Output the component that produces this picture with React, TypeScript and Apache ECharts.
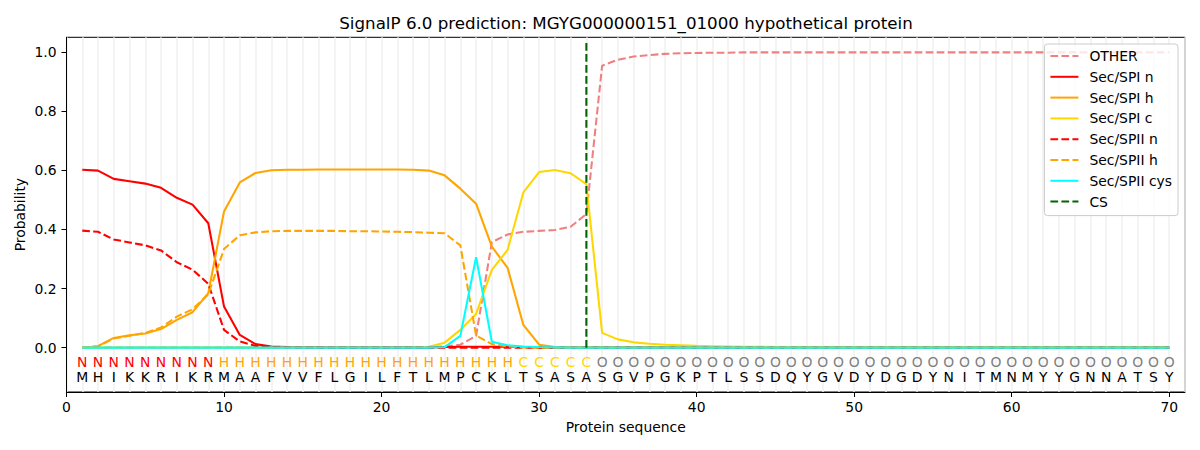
import React, { useEffect, useRef } from "react";
import * as echarts from "echarts";

const TITLE = "SignalP 6.0 prediction: MGYG000000151_01000 hypothetical protein";
const sequence = "MHIKKRIKRMAAFVVFLGILFTLMPCKLTSASASGVPGKPTLSSDQYGVDYDGDYNITMNMYYGNNATSY";
const regionLabels = "NNNNNNNNNHHHHHHHHHHHHHHHHHHHCCCCCOOOOOOOOOOOOOOOOOOOOOOOOOOOOOOOOOOOOO";
const positions = sequence.split("").map((_, i) => i + 1);
const csPosition = 33;
const csExtent = [0, 1.04];

const xTicks = [0, 10, 20, 30, 40, 50, 60, 70];
const yTicks = [0, 0.2, 0.4, 0.6, 0.8, 1.0];

const other = [
  0, 0, 0, 0, 0, 0, 0, 0, 0, 0,
  0, 0, 0, 0, 0, 0, 0, 0, 0, 0.001,
  0.001, 0.001, 0.002, 0.004, 0.01, 0.04, 0.357, 0.383, 0.392, 0.395,
  0.398, 0.409, 0.452, 0.954, 0.974, 0.985, 0.99, 0.994, 0.996, 0.997,
  0.998, 0.998, 0.999, 0.999, 0.999, 0.999, 0.999, 0.999, 0.999, 0.999,
  0.999, 0.999, 0.999, 0.999, 0.999, 0.999, 0.999, 0.999, 0.999, 0.999,
  0.999, 0.999, 0.999, 0.999, 0.999, 0.999, 0.999, 0.999, 0.999, 0.999,
];
const spiN = [
  0.602, 0.599, 0.571, 0.563, 0.555, 0.541, 0.507, 0.484, 0.421, 0.139,
  0.043, 0.012, 0.004, 0.002, 0.001, 0.001, 0, 0, 0, 0,
  0, 0, 0.001, 0.002, 0.003, 0.003, 0.003, 0.003, 0.002, 0.001,
  0, 0, 0, 0, 0, 0, 0, 0, 0, 0,
  0, 0, 0, 0, 0, 0, 0, 0, 0, 0,
  0, 0, 0, 0, 0, 0, 0, 0, 0, 0,
  0, 0, 0, 0, 0, 0, 0, 0, 0, 0,
];
const spiH = [
  0, 0.005, 0.033, 0.042, 0.048, 0.063, 0.094, 0.12, 0.184, 0.461,
  0.559, 0.591, 0.6, 0.602, 0.602, 0.603, 0.603, 0.603, 0.603, 0.603,
  0.603, 0.602, 0.599, 0.583, 0.538, 0.487, 0.342, 0.27, 0.077, 0.01,
  0.002, 0.001, 0, 0, 0, 0, 0, 0, 0, 0,
  0, 0, 0, 0, 0, 0, 0, 0, 0, 0,
  0, 0, 0, 0, 0, 0, 0, 0, 0, 0,
  0, 0, 0, 0, 0, 0, 0, 0, 0, 0,
];
const spiC = [
  0, 0, 0, 0, 0, 0, 0, 0, 0, 0,
  0, 0, 0, 0, 0, 0, 0, 0, 0, 0,
  0, 0, 0.003, 0.017, 0.06, 0.114, 0.263, 0.331, 0.525, 0.594,
  0.601, 0.59, 0.553, 0.05, 0.028, 0.018, 0.013, 0.01, 0.008, 0.006,
  0.005, 0.004, 0.003, 0.003, 0.002, 0.002, 0.001, 0.001, 0.001, 0.001,
  0.001, 0.001, 0.001, 0.001, 0.001, 0.001, 0.001, 0.001, 0.001, 0.001,
  0.001, 0.001, 0.001, 0.001, 0.001, 0.001, 0.001, 0.001, 0.001, 0.001,
];
const spiiN = [
  0.396, 0.392, 0.366, 0.356, 0.346, 0.329, 0.289, 0.264, 0.216, 0.06,
  0.021, 0.006, 0.002, 0.001, 0, 0, 0, 0, 0, 0,
  0, 0, 0, 0, 0, 0, 0, 0, 0, 0,
  0, 0, 0, 0, 0, 0, 0, 0, 0, 0,
  0, 0, 0, 0, 0, 0, 0, 0, 0, 0,
  0, 0, 0, 0, 0, 0, 0, 0, 0, 0,
  0, 0, 0, 0, 0, 0, 0, 0, 0, 0,
];
const spiiH = [
  0, 0.005, 0.031, 0.04, 0.05, 0.068, 0.105, 0.13, 0.18, 0.334,
  0.38, 0.39, 0.394, 0.395, 0.395, 0.395, 0.395, 0.394, 0.394, 0.393,
  0.392, 0.391, 0.389, 0.387, 0.346, 0.041, 0.012, 0.004, 0.001, 0,
  0, 0, 0, 0, 0, 0, 0, 0, 0, 0,
  0, 0, 0, 0, 0, 0, 0, 0, 0, 0,
  0, 0, 0, 0, 0, 0, 0, 0, 0, 0,
  0, 0, 0, 0, 0, 0, 0, 0, 0, 0,
];
const spiiCys = [
  0, 0, 0, 0, 0, 0, 0, 0, 0, 0,
  0, 0, 0, 0, 0, 0, 0, 0, 0, 0,
  0, 0, 0, 0.002, 0.04, 0.306, 0.02, 0.008, 0.004, 0.002,
  0.001, 0, 0, 0, 0, 0, 0, 0, 0, 0,
  0, 0, 0, 0, 0, 0, 0, 0, 0, 0,
  0, 0, 0, 0, 0, 0, 0, 0, 0, 0,
  0, 0, 0, 0, 0, 0, 0, 0, 0, 0,
];

const FONT = "DejaVu Sans";
const DASH = [7.7, 3.3];
const LW = 2.08;
const regionColor: Record<string, string> = { N: "#ff0000", H: "#ffa500", C: "#ffd700", O: "#808080" };

function lineSeries(name: string, values: number[], color: string, dashed: boolean) {
  return {
    name,
    type: "line",
    data: positions.map((p, i) => [p, values[i]]),
    symbol: "none",
    showSymbol: false,
    color,
    itemStyle: { color, opacity: 0 },
    lineStyle: { color, width: LW, type: dashed ? DASH : "solid", opacity: 1 },
    emphasis: { disabled: true },
    silent: true,
    z: 3,
  };
}

function letterSeries(letters: string, yLevel: number, colorOf: (ch: string) => string) {
  return {
    type: "custom",
    silent: true,
    clip: false,
    data: positions.map((p) => [p, yLevel]),
    renderItem: (params: any, api: any) => {
      const pt = api.coord([api.value(0), api.value(1)]);
      const ch = letters[params.dataIndex];
      return {
        type: "text",
        x: pt[0],
        y: pt[1],
        style: {
          text: ch,
          fill: colorOf(ch),
          fontSize: 13.9,
          fontFamily: FONT,
          align: "center",
          verticalAlign: "middle",
        },
      };
    },
    z: 4,
  };
}

export default function App() {
  const ref = useRef<HTMLDivElement>(null);
  useEffect(() => {
    if (!ref.current) return;
    const chart = echarts.init(ref.current, null, { renderer: "svg" });
    const axisCommon = {
      axisLine: { show: true, onZero: false, lineStyle: { color: "#000", width: 1 } },
      axisTick: { show: true, length: 5, lineStyle: { color: "#000", width: 1 } },
      splitLine: { show: false },
    };
    chart.setOption({
      animation: false,
      backgroundColor: "#fff",
      textStyle: { fontFamily: FONT },
      grid: {
        left: 66.5,
        right: 15,
        top: 37.3,
        bottom: 58,
        show: true,
        borderColor: "#000",
        borderWidth: 1,
        backgroundColor: "transparent",
        outerBoundsMode: "none",
        containLabel: false,
      },
      graphic: [
        {
          type: "text",
          x: 626,
          y: 23,
          silent: true,
          style: {
            text: TITLE,
            fill: "#000",
            fontSize: 16.7,
            fontFamily: FONT,
            align: "center",
            verticalAlign: "middle",
          },
        },
      ],
      xAxis: [
        {
          type: "value",
          min: 0,
          max: 71,
          name: "Protein sequence",
          nameLocation: "middle",
          nameGap: 28,
          nameMoveOverlap: false,
          nameTextStyle: { color: "#000", fontSize: 13.9, fontFamily: FONT },
          ...axisCommon,
          axisTick: { ...axisCommon.axisTick, customValues: xTicks },
          axisLabel: {
            customValues: xTicks,
            color: "#000",
            fontSize: 13.9,
            fontFamily: FONT,
            margin: 8,
          },
          z: 5,
        },
        {
          type: "value",
          min: 0,
          max: 71,
          interval: 1,
          position: "bottom",
          axisLine: { show: false, onZero: false },
          axisTick: { show: false },
          axisLabel: { show: false },
          splitLine: { show: true, lineStyle: { color: "#f0f0f0", width: 1.5 } },
          z: 0,
        },
      ],
      yAxis: {
        type: "value",
        min: -0.15,
        max: 1.05,
        name: "Probability",
        nameLocation: "middle",
        nameGap: 40,
        nameMoveOverlap: false,
        nameTextStyle: { color: "#000", fontSize: 13.9, fontFamily: FONT },
        ...axisCommon,
        axisTick: { ...axisCommon.axisTick, customValues: yTicks },
        axisLabel: {
          customValues: yTicks,
          formatter: (v: number) => v.toFixed(1),
          color: "#000",
          fontSize: 13.9,
          fontFamily: FONT,
          margin: 10,
        },
        z: 5,
      },
      legend: {
        orient: "vertical",
        right: 22,
        top: 44,
        itemWidth: 28,
        itemHeight: 14,
        itemGap: 6.8,
        padding: [5, 6, 7, 5],
        backgroundColor: "rgba(255,255,255,0.8)",
        borderColor: "#cccccc",
        borderWidth: 1,
        borderRadius: 3,
        selectedMode: false,
        itemStyle: { opacity: 0 },
        lineStyle: { opacity: 1 },
        textStyle: { color: "#000", fontSize: 13.9, fontFamily: FONT, padding: [0, 0, 0, 6] },
        data: ["OTHER", "Sec/SPI n", "Sec/SPI h", "Sec/SPI c", "Sec/SPII n", "Sec/SPII h", "Sec/SPII cys", "CS"],
        z: 10,
      },
      series: [
        lineSeries("OTHER", other, "#f08080", true),
        lineSeries("Sec/SPI n", spiN, "#ff0000", false),
        lineSeries("Sec/SPI h", spiH, "#ffa500", false),
        lineSeries("Sec/SPI c", spiC, "#ffd700", false),
        lineSeries("Sec/SPII n", spiiN, "#ff0000", true),
        lineSeries("Sec/SPII h", spiiH, "#ffa500", true),
        lineSeries("Sec/SPII cys", spiiCys, "#00ffff", false),
        {
          name: "CS",
          type: "line",
          data: csExtent.map((y) => [csPosition, y]),
          symbol: "none",
          showSymbol: false,
          color: "#006400",
          itemStyle: { color: "#006400", opacity: 0 },
          lineStyle: { color: "#006400", width: LW, type: DASH, opacity: 1 },
          emphasis: { disabled: true },
          silent: true,
          z: 3,
        },
        letterSeries(regionLabels, -0.047, (ch) => regionColor[ch] || "#000"),
        letterSeries(sequence, -0.098, () => "#000"),
      ],
    });
    return () => chart.dispose();
  }, []);
  return (
    <div
      ref={ref}
      style={{ position: "absolute", left: 0, top: 0, width: 1200, height: 450 }}
    />
  );
}
